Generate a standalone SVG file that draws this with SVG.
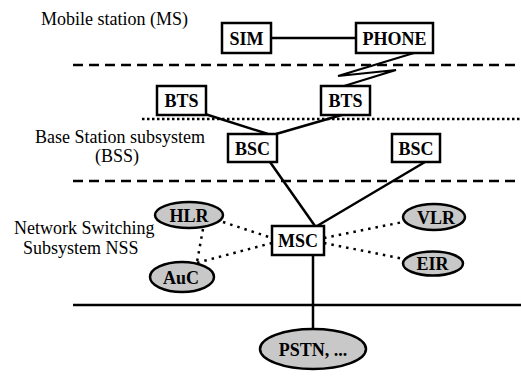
<svg xmlns="http://www.w3.org/2000/svg" width="521" height="377" viewBox="0 0 521 377">
  <rect width="521" height="377" fill="#fff"/>

  <!-- subsystem titles -->
  <g id="titles" font-family="Liberation Serif" font-size="18" fill="#000">
    <text x="41" y="25">Mobile station (MS)</text>
    <text x="35" y="143">Base Station subsystem</text>
    <text x="95" y="162">(BSS)</text>
    <text x="14" y="234">Network Switching</text>
    <text x="23" y="254">Subsystem NSS</text>
  </g>

  <!-- boundaries between subsystems -->
  <g id="boundaries" stroke="#000" stroke-width="2.5" fill="none">
    <line x1="73" y1="65" x2="521" y2="65" stroke-dasharray="10 6"/>
    <line x1="142" y1="119" x2="521" y2="119" stroke-dasharray="2.5 2.5"/>
    <line x1="73" y1="181" x2="521" y2="181" stroke-dasharray="10 6"/>
    <line x1="73" y1="305" x2="521" y2="305"/>
  </g>

  <!-- connectors: solid links, radio link zigzag, dotted database links -->
  <g id="connectors" stroke="#000" stroke-width="2.5" fill="none">
    <line x1="271" y1="38" x2="356" y2="38"/>
    <polyline stroke-width="2" points="414,53 338,76 396,70 344,86"/>
    <line x1="205" y1="114" x2="268" y2="134"/>
    <line x1="345" y1="114" x2="276" y2="134"/>
    <line x1="270" y1="162" x2="315" y2="226"/>
    <line x1="425" y1="162" x2="317" y2="226"/>
    <line x1="313" y1="255" x2="313" y2="329"/>
    <g stroke-dasharray="2.5 5">
      <line x1="223" y1="222" x2="272" y2="238"/>
      <line x1="272" y1="243" x2="196" y2="263"/>
      <line x1="203" y1="229" x2="197" y2="262"/>
      <line x1="324" y1="238" x2="403" y2="222"/>
      <line x1="324" y1="243" x2="404" y2="259"/>
    </g>
  </g>

  <g id="sim">
    <rect x="222" y="23" width="49" height="30" fill="#fff" stroke="#000" stroke-width="2.5"/>
    <text x="246.5" y="44.5" font-family="Liberation Serif" font-size="18" font-weight="bold" text-anchor="middle">SIM</text>
  </g>
  <g id="phone">
    <rect x="356" y="23" width="77" height="30" fill="#fff" stroke="#000" stroke-width="2.5"/>
    <text x="394.5" y="44.5" font-family="Liberation Serif" font-size="18" font-weight="bold" text-anchor="middle">PHONE</text>
  </g>
  <g id="bts1">
    <rect x="157" y="86" width="49" height="29" fill="#fff" stroke="#000" stroke-width="2.5"/>
    <text x="181.5" y="107" font-family="Liberation Serif" font-size="18" font-weight="bold" text-anchor="middle">BTS</text>
  </g>
  <g id="bts2">
    <rect x="321" y="86" width="49" height="29" fill="#fff" stroke="#000" stroke-width="2.5"/>
    <text x="345.5" y="107" font-family="Liberation Serif" font-size="18" font-weight="bold" text-anchor="middle">BTS</text>
  </g>
  <g id="bsc1">
    <rect x="228" y="134" width="49" height="28" fill="#fff" stroke="#000" stroke-width="2.5"/>
    <text x="252.5" y="155" font-family="Liberation Serif" font-size="18" font-weight="bold" text-anchor="middle">BSC</text>
  </g>
  <g id="bsc2">
    <rect x="392" y="134" width="48" height="28" fill="#fff" stroke="#000" stroke-width="2.5"/>
    <text x="416" y="155" font-family="Liberation Serif" font-size="18" font-weight="bold" text-anchor="middle">BSC</text>
  </g>
  <g id="msc">
    <rect x="272" y="226" width="52" height="29" fill="#fff" stroke="#000" stroke-width="2.5"/>
    <text x="298" y="247" font-family="Liberation Serif" font-size="18" font-weight="bold" text-anchor="middle">MSC</text>
  </g>
  <g id="hlr">
    <ellipse cx="189" cy="215" rx="34" ry="13" fill="#c8c8c8" stroke="#000" stroke-width="2.5"/>
    <text x="189" y="221.5" font-family="Liberation Serif" font-size="18" font-weight="bold" text-anchor="middle">HLR</text>
  </g>
  <g id="vlr">
    <ellipse cx="434" cy="217" rx="31" ry="13" fill="#c8c8c8" stroke="#000" stroke-width="2.5"/>
    <text x="436" y="223.5" font-family="Liberation Serif" font-size="18" font-weight="bold" text-anchor="middle">VLR</text>
  </g>
  <g id="auc">
    <ellipse cx="182" cy="277" rx="32" ry="15" fill="#c8c8c8" stroke="#000" stroke-width="2.5"/>
    <text x="181" y="283.5" font-family="Liberation Serif" font-size="18" font-weight="bold" text-anchor="middle">AuC</text>
  </g>
  <g id="eir">
    <ellipse cx="433" cy="263.5" rx="30" ry="12" fill="#c8c8c8" stroke="#000" stroke-width="2.5"/>
    <text x="432.5" y="270" font-family="Liberation Serif" font-size="18" font-weight="bold" text-anchor="middle">EIR</text>
  </g>
  <g id="pstn">
    <ellipse cx="313" cy="349" rx="53" ry="20" fill="#c8c8c8" stroke="#000" stroke-width="2.5"/>
    <text x="313" y="355.5" font-family="Liberation Serif" font-size="18" font-weight="bold" text-anchor="middle">PSTN, ...</text>
  </g>
</svg>
